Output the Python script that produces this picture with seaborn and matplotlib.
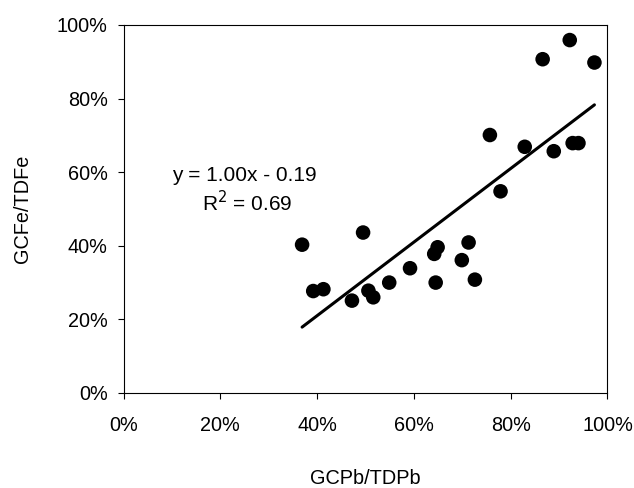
import pandas as pd
import matplotlib
matplotlib.use("Agg")
import matplotlib.pyplot as plt
import seaborn as sns
from matplotlib.ticker import PercentFormatter, MultipleLocator

# values (fractions)
gcpb_tdpb = [0.369, 0.392, 0.413, 0.472, 0.495, 0.506, 0.516, 0.549, 0.592,
             0.642, 0.649, 0.645, 0.699, 0.713, 0.726, 0.757, 0.779, 0.829,
             0.866, 0.889, 0.922, 0.928, 0.940, 0.973]
gcfe_tdfe = [0.403, 0.277, 0.282, 0.251, 0.436, 0.278, 0.260, 0.300, 0.339,
             0.378, 0.396, 0.300, 0.361, 0.409, 0.308, 0.701, 0.548, 0.669,
             0.907, 0.657, 0.959, 0.679, 0.679, 0.898]

# trendline from the chart's equation
slope = 1.00
intercept = -0.19
r2 = 0.69

df = pd.DataFrame({"GCPb/TDPb": gcpb_tdpb, "GCFe/TDFe": gcfe_tdfe})
fit_x = [min(gcpb_tdpb), max(gcpb_tdpb)]
fit = pd.DataFrame({"x": fit_x, "y": [slope * v + intercept for v in fit_x]})

sns.set_style("ticks")
plt.rcParams['font.family'] = ['Liberation Sans', 'DejaVu Sans']
plt.rcParams['text.color'] = 'black'
plt.rcParams['axes.labelcolor'] = 'black'

fig = plt.figure(figsize=(6.34, 4.88), dpi=100)
ax = fig.add_axes([0.1948, 0.1947, 0.9582 - 0.1948, 0.9488 - 0.1947])

sns.lineplot(data=fit, x="x", y="y", color="black", linewidth=2.2, ax=ax)
sns.scatterplot(data=df, x="GCPb/TDPb", y="GCFe/TDFe", color="black",
                s=110, edgecolor="none", ax=ax, zorder=3)

ax.set_xlim(0, 1)
ax.set_ylim(0, 1)
ax.xaxis.set_major_locator(MultipleLocator(0.2))
ax.yaxis.set_major_locator(MultipleLocator(0.2))
ax.xaxis.set_major_formatter(PercentFormatter(1.0, decimals=0))
ax.yaxis.set_major_formatter(PercentFormatter(1.0, decimals=0))
ax.tick_params(axis="both", direction="out", length=4.3, width=0.8,
               labelsize=14.3, colors="black")
ax.tick_params(axis="x", pad=12.5)
ax.tick_params(axis="y", pad=7)
for sp in ax.spines.values():
    sp.set_color("black")
    sp.set_linewidth(0.8)

ax.set_xlabel("GCPb/TDPb", fontsize=14.3, labelpad=24.5)
ax.set_ylabel("GCFe/TDFe", fontsize=14.3, labelpad=18)

ax.text(0.25, 0.592, f"y = {slope:.2f}x - {abs(intercept):.2f}",
        ha="center", va="center", fontsize=15)
ax.text(0.256, 0.516, f"R$^2$ = {r2:.2f}", ha="center", va="center",
        fontsize=15)

fig.savefig("out.png", dpi=100)
